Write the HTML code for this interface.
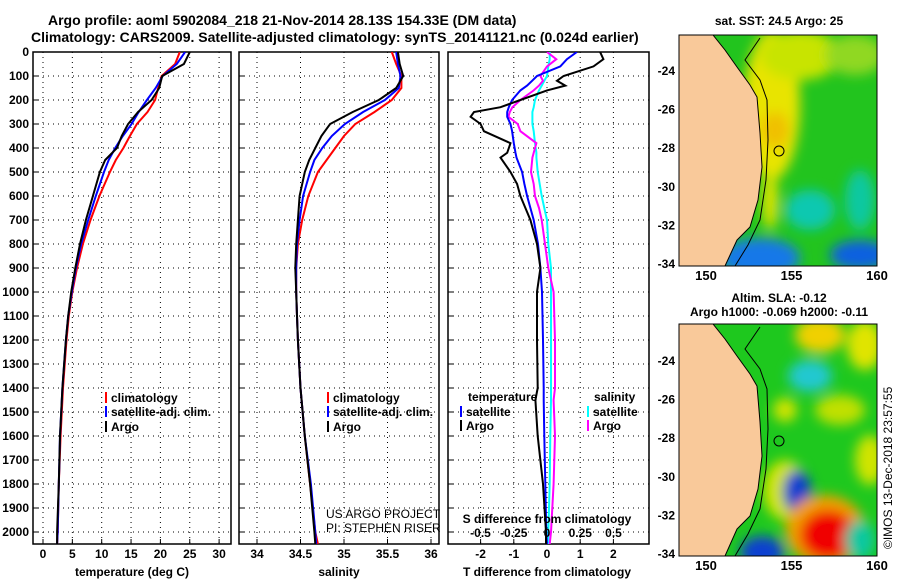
<!DOCTYPE html>
<html><head><meta charset="utf-8"><style>
html,body{margin:0;padding:0;background:#fff;}
svg text{font-family:"Liberation Sans",sans-serif;font-weight:bold;fill:#000;}
</style></head><body>
<svg id="chart" width="900" height="580" viewBox="0 0 900 580" xmlns="http://www.w3.org/2000/svg">
<defs>
<clipPath id="c1"><rect x="33" y="52" width="198" height="492"/></clipPath>
<clipPath id="c2"><rect x="239" y="52" width="200" height="492"/></clipPath>
<clipPath id="c3"><rect x="448" y="52" width="201" height="492"/></clipPath>
<clipPath id="m1"><rect x="679" y="35" width="198" height="231"/></clipPath>
<clipPath id="m2"><rect x="679" y="324" width="198" height="232"/></clipPath>
<filter id="bl" x="-50%" y="-50%" width="200%" height="200%"><feGaussianBlur stdDeviation="6"/></filter>
</defs>
<text x="48" y="25" font-size="14">Argo profile: aoml 5902084_218 21-Nov-2014 28.13S 154.33E (DM data)</text>
<text x="31" y="42" font-size="14">Climatology: CARS2009. Satellite-adjusted climatology: synTS_20141121.nc (0.024d earlier)</text>
<g id="g"></g>

<!-- Map 1 -->
<g clip-path="url(#m1)">
<rect x="679" y="35" width="198" height="231" fill="#22c41e"/>
<g filter="url(#bl)">
<ellipse cx="772" cy="105" rx="28" ry="75" fill="#e8e400"/>
<ellipse cx="800" cy="55" rx="40" ry="25" fill="#c8e400"/>
<ellipse cx="855" cy="55" rx="30" ry="20" fill="#90d820"/>
<ellipse cx="775" cy="130" rx="14" ry="18" fill="#f0c000"/>
<ellipse cx="770" cy="200" rx="8" ry="30" fill="#e0e400"/>
<ellipse cx="810" cy="210" rx="25" ry="20" fill="#10c8b0"/>
<ellipse cx="860" cy="200" rx="15" ry="30" fill="#10c8a0"/>
<ellipse cx="760" cy="258" rx="40" ry="20" fill="#1878e8"/>
<ellipse cx="860" cy="255" rx="30" ry="15" fill="#1060e0"/>
</g>
<polygon fill="#f9c99a" points="679,35 713,35 725,50 737,67 750,85 757,97 760,133 762,167 758,200 750,227 737,240 725,266 679,266"/>
<polyline fill="none" stroke="#000" stroke-width="1" points="713,35 725,50 737,67 750,85 757,97 760,133 762,167 758,200 750,227 737,240 725,266"/>
<polyline fill="none" stroke="#000" stroke-width="1" points="760,38 745,60 760,80 767,100 768,140 766,180 760,220 748,245 735,266"/>
<circle cx="779" cy="151" r="5" fill="none" stroke="#000"/>
</g>
<rect x="679" y="35" width="198" height="231" fill="none" stroke="#000"/>
<text x="779" y="25" font-size="12" text-anchor="middle">sat. SST: 24.5 Argo: 25</text>

<!-- Map 2 -->
<g clip-path="url(#m2)">
<rect x="679" y="324" width="198" height="232" fill="#1ec81e"/>
<g filter="url(#bl)">
<ellipse cx="820" cy="335" rx="25" ry="18" fill="#f0d000"/>
<ellipse cx="865" cy="345" rx="18" ry="25" fill="#e0e400"/>
<ellipse cx="810" cy="376" rx="22" ry="16" fill="#20c8d0"/>
<ellipse cx="785" cy="410" rx="12" ry="12" fill="#d0e400"/>
<ellipse cx="840" cy="410" rx="25" ry="15" fill="#c0e000"/>
<ellipse cx="870" cy="460" rx="15" ry="25" fill="#d0e400"/>
<ellipse cx="785" cy="490" rx="22" ry="30" fill="#d0e400"/>
<ellipse cx="797" cy="492" rx="14" ry="22" fill="#1040d0"/>
<ellipse cx="825" cy="530" rx="40" ry="35" fill="#f0a000"/>
<ellipse cx="828" cy="535" rx="28" ry="25" fill="#f00000"/>
<ellipse cx="762" cy="552" rx="22" ry="16" fill="#1040d0"/>
<ellipse cx="860" cy="540" rx="15" ry="20" fill="#10c8a0"/>
</g>
<polygon fill="#f9c99a" points="679,324 713,324 725,339 737,356 750,374 757,386 760,422 762,456 758,489 750,516 737,529 725,556 679,556"/>
<polyline fill="none" stroke="#000" stroke-width="1" points="713,324 725,339 737,356 750,374 757,386 760,422 762,456 758,489 750,516 737,529 725,556"/>
<polyline fill="none" stroke="#000" stroke-width="1" points="760,327 745,349 760,369 767,389 768,429 766,469 760,509 748,534 735,556"/>
<circle cx="779" cy="441" r="5" fill="none" stroke="#000"/>
</g>
<rect x="679" y="324" width="198" height="232" fill="none" stroke="#000"/>
<text x="779" y="302" font-size="12" text-anchor="middle">Altim. SLA: -0.12</text>
<text x="779" y="316" font-size="12" text-anchor="middle">Argo h1000: -0.069 h2000: -0.11</text>
<text transform="translate(892,549) rotate(-90)" font-size="12" style="font-weight:normal">©IMOS 13-Dec-2018 23:57:55</text>
</svg>
<script>
// ---- data ----
const depths12 = [0,50,100,150,200,250,300,350,400,450,500,600,700,800,900,1000,1100,1200,1400,1600,1800,2000,2050];
const tempClim = [23.3,22.5,20.2,19.6,19.1,17.8,16,14.8,13.7,12.4,11.4,9.6,8.1,6.8,5.8,5.0,4.4,4.0,3.4,3.0,2.7,2.5,2.4];
const tempSat  = [24.2,22.8,20.4,19.2,17.7,16.3,15.1,13.6,12.3,11.2,10.4,9.0,7.7,6.5,5.6,4.9,4.3,3.9,3.3,2.9,2.7,2.5,2.4];
const tempArgo = [25,24,20.3,19.8,18.5,16.2,14.5,13.4,12.6,10.6,9.7,8.5,7.3,6.3,5.5,4.8,4.3,3.9,3.3,2.9,2.7,2.4,2.4];
const salClim = [35.55,35.6,35.66,35.66,35.55,35.35,35.13,35.0,34.9,34.8,34.70,34.59,34.52,34.47,34.45,34.45,34.46,34.47,34.5,34.55,34.61,34.67,34.70];
const salSat  = [35.6,35.62,35.65,35.63,35.47,35.22,35.01,34.86,34.75,34.66,34.61,34.53,34.49,34.46,34.45,34.45,34.46,34.47,34.5,34.55,34.62,34.67,34.68];
const salArgo = [35.62,35.64,35.68,35.6,35.40,35.1,34.84,34.74,34.67,34.6,34.55,34.49,34.47,34.45,34.44,34.45,34.46,34.47,34.5,34.55,34.61,34.66,34.67];
const depths3 = [0,30,60,100,120,140,160,200,230,250,270,300,330,380,420,440,500,550,600,650,700,800,900,1000,1200,1400,1450,1600,1800,2000,2050];
const dTArgo = [1.6,1.7,1.4,0.5,0.3,0.55,0,-0.8,-1.4,-2.2,-2.3,-2.0,-1.9,-1.1,-1.2,-1.4,-1.1,-0.9,-0.8,-0.65,-0.5,-0.3,-0.2,-0.3,-0.3,-0.28,-0.35,-0.28,-0.12,-0.03,-0.03];
const dTSat  = [0.9,0.6,0.4,-0.3,-0.45,-0.6,-0.8,-1.05,-1.15,-1.2,-1.2,-1.1,-1.05,-1.0,-0.95,-0.92,-0.75,-0.68,-0.6,-0.5,-0.4,-0.27,-0.2,-0.15,-0.12,-0.1,-0.1,-0.08,-0.05,-0.02,0];
const dSArgo = [0,0.07,0.0,-0.05,-0.03,-0.06,-0.1,-0.2,-0.26,-0.28,-0.29,-0.22,-0.2,-0.08,-0.1,-0.11,-0.12,-0.1,-0.09,-0.06,-0.04,-0.015,0.01,0.05,0.06,0.06,0.05,0.06,0.05,0.03,0.02];
const dSSat  = [0.02,0.02,0.01,0,-0.02,-0.04,-0.06,-0.09,-0.1,-0.11,-0.11,-0.11,-0.1,-0.09,-0.08,-0.08,-0.07,-0.055,-0.04,-0.02,0,0.01,0.03,0.03,0.03,0.03,0.03,0.025,0.02,0.01,0.01];
const depthTicks = [0,100,200,300,400,500,600,700,800,900,1000,1100,1200,1300,1400,1500,1600,1700,1800,1900,2000];
const tempTicks = [0,5,10,15,20,25,30];
const salTicks = [34,34.5,35,35.5,36];
const dTTicks = [-2,-1,0,1,2];
const dSTicks = [-0.5,-0.25,0,0.25,0.5];
const mapLatTicks = [-24,-26,-28,-30,-32,-34];
const mapLonTicks = [150,155,160];

// ---- scales ----
const NS='http://www.w3.org/2000/svg';
const G=document.getElementById('g');
const TOP=52, BOT=544;
const yD = d => TOP + 0.24*d;
const xT = t => 43 + 5.87*t;
const xS = s => 257 + 87*(s-34);
const xDT = t => 547 + 33.2*t;
const xDS = s => 547 + 133*s;
const mapX = lon => 706 + 17.1*(lon-150);
const map1Y = lat => 71 + 19.3*(-24-lat);
const map2Y = lat => 361 + 19.3*(-24-lat);

function mk(tag, attrs, parent){const e=document.createElementNS(NS,tag);for(const k in attrs)e.setAttribute(k,attrs[k]);(parent||G).appendChild(e);return e;}
function txt(x,y,s,size,anchor,parent){const t=mk('text',{x:x,y:y,'font-size':size,'text-anchor':anchor||'start'},parent);t.textContent=s;return t;}

function panel(x0,x1,name,ticks,xs,labels){
  const grp=mk('g',{});
  
  
  depthTicks.forEach(d=>{ if(d>0) mk('line',{x1:x0,x2:x1,y1:yD(d),y2:yD(d),stroke:'#000','stroke-dasharray':'1,4','stroke-width':1},grp);
    mk('line',{x1:x0,x2:x0+5,y1:yD(d),y2:yD(d),stroke:'#000'},grp);});
  ticks.forEach(v=>{ mk('line',{x1:xs(v),x2:xs(v),y1:TOP,y2:BOT,stroke:'#000','stroke-dasharray':'1,4'},grp);
    mk('line',{x1:xs(v),x2:xs(v),y1:BOT,y2:BOT-5,stroke:'#000'},grp);
    if(labels){const t=txt(xs(v),558,labels(v),12,'middle',grp);
      
      }
  });
  mk('rect',{x:x0,y:TOP,width:x1-x0,height:BOT-TOP,fill:'none',stroke:'#000','stroke-width':1.5},grp);
  return grp;
}
function series(depths,vals,xs,color,name,clip){
  let pts=depths.map((d,i)=>xs(vals[i]).toFixed(1)+','+yD(d).toFixed(1)).join(' ');
  const p=mk('polyline',{points:pts,fill:'none',stroke:color,'stroke-width':2,'clip-path':'url(#'+clip+')'});
  
  
}
function legend(x,y,color,label){
  mk('line',{x1:x,x2:x,y1:y-10,y2:y+1,stroke:color,'stroke-width':2});
  const t=txt(x+5,y,label,12,'start');
  
  
}

// Panel 1
panel(33,231,'temperature-panel',tempTicks,xT,v=>String(v));
depthTicks.forEach(d=>{const t=txt(29,yD(d)+4,String(d),12,'end');
  
  });
series(depths12,tempClim,xT,'#ff0000','temp-climatology-line','c1');
series(depths12,tempSat,xT,'#0000ff','temp-satellite-line','c1');
series(depths12,tempArgo,xT,'#000000','temp-argo-line','c1');
let xl=txt(132,576,'temperature (deg C)',12,'middle');


legend(106,402,'#ff0000','climatology');
legend(106,416,'#0000ff','satellite-adj. clim.');
legend(106,431,'#000000','Argo');

// Panel 2
panel(239,439,'salinity-panel',salTicks,xS,v=>String(v));
series(depths12,salClim,xS,'#ff0000','sal-climatology-line','c2');
series(depths12,salSat,xS,'#0000ff','sal-satellite-line','c2');
series(depths12,salArgo,xS,'#000000','sal-argo-line','c2');
xl=txt(339,576,'salinity',12,'middle');


legend(328,402,'#ff0000','climatology');
legend(328,416,'#0000ff','satellite-adj. clim.');
legend(328,431,'#000000','Argo');
let n1=txt(326,518,'US ARGO PROJECT',12,'start'); n1.setAttribute('style','font-weight:normal');


let n2=txt(326,532,'PI: STEPHEN RISER',12,'start'); n2.setAttribute('style','font-weight:normal');



// Panel 3
panel(448,649,'difference-panel',dTTicks,xDT,v=>String(v));
series(depths3,dSSat,xDS,'#00ffff','sal-diff-satellite-line','c3');
series(depths3,dSArgo,xDS,'#ff00ff','sal-diff-argo-line','c3');
series(depths3,dTSat,xDT,'#0000ff','temp-diff-satellite-line','c3');
series(depths3,dTArgo,xDT,'#000000','temp-diff-argo-line','c3');
dSTicks.forEach(v=>{const t=txt(xDS(v),537,v===0?'0':String(v),12,'middle');
  
  });
xl=txt(547,523,'S difference from climatology',12,'middle');


xl=txt(547,576,'T difference from climatology',12,'middle');


xl=txt(468,401,'temperature',12,'start');


xl=txt(594,401,'salinity',12,'start');


legend(461,416,'#0000ff','satellite');
legend(461,430,'#000000','Argo');
legend(588,416,'#00ffff','satellite');
legend(588,430,'#ff00ff','Argo');

// Map axes
[[map1Y,280,35,266],[map2Y,570,324,556]].forEach(([my,ly,t0,b0])=>{
  mapLatTicks.forEach(lat=>{const y=my(lat);
    mk('line',{x1:679,x2:683,y1:y,y2:y,stroke:'#000'});
    mk('line',{x1:873,x2:877,y1:y,y2:y,stroke:'#000'});
    const t=txt(675,y+4,String(lat),12,'end');
    
    });
  mapLonTicks.forEach(lon=>{const x=mapX(lon);
    mk('line',{x1:x,x2:x,y1:t0,y2:t0+4,stroke:'#000'});
    mk('line',{x1:x,x2:x,y1:b0,y2:b0-4,stroke:'#000'});
    const t=txt(x,ly,String(lon),13,'middle');
    
    });
});
</script>
</body></html>
